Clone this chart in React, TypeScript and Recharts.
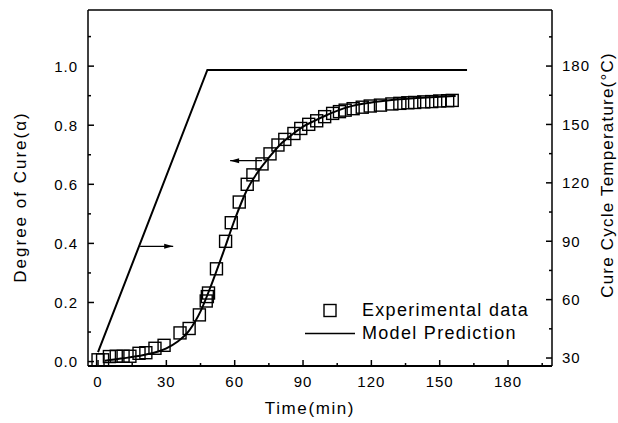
import {
  ComposedChart,
  Line,
  Scatter,
  XAxis,
  YAxis,
  ReferenceLine,
  Legend,
} from "recharts"

const FONT = '"Liberation Sans", Arial, Helvetica, sans-serif'
const INK = "#000"

// experimental points (min, alpha)
const expTime = [
  0, 2, 5, 8, 11, 14, 18, 21, 25, 29, 36, 40, 44.5, 47.5, 48, 48.5, 52, 56,
  58.5, 62, 65.5, 68, 72, 75.5, 79, 82, 86, 89, 92.5, 96, 99.5, 103, 106,
  108.5, 112, 116, 119.5, 124, 129, 132.5, 136, 139, 143, 146.5, 150, 153.5,
  155.5,
]
const expCure = [
  0.006, 0.006, 0.017, 0.018, 0.018, 0.018, 0.028, 0.03, 0.045, 0.055, 0.097,
  0.112, 0.158, 0.205, 0.22, 0.232, 0.314, 0.407, 0.47, 0.54, 0.6, 0.632,
  0.669, 0.703, 0.733, 0.752, 0.772, 0.789, 0.803, 0.815, 0.829, 0.84, 0.846,
  0.851, 0.856, 0.861, 0.865, 0.868, 0.872, 0.874, 0.876, 0.877, 0.879, 0.88,
  0.882, 0.883, 0.884,
]

// model prediction
const modelTime = [
  3, 10, 20, 30, 35, 40, 45, 50, 55, 60, 65, 70, 75, 80, 85, 90, 95, 100, 110,
  120, 130, 140, 150, 157,
]
const modelCure = [
  0.003, 0.01, 0.022, 0.045, 0.068, 0.105, 0.17, 0.265, 0.37, 0.48, 0.575,
  0.64, 0.69, 0.735, 0.767, 0.795, 0.815, 0.833, 0.862, 0.877, 0.886, 0.892,
  0.896, 0.899,
]

// cure cycle temperature (right axis)
const cycleTime = [0, 48, 162]
const cycleTemp = [33, 178, 178]

const timeTicks = [0, 15, 30, 45, 60, 75, 90, 105, 120, 135, 150, 165, 180, 195]
const cureTicks = [0, 0.1, 0.2, 0.3, 0.4, 0.5, 0.6, 0.7, 0.8, 0.9, 1.0, 1.1]
const tempTicks = [30, 45, 60, 75, 90, 105, 120, 135, 150, 165, 180, 195]

const expData = expTime.map((t, i) => ({ t, a: expCure[i] }))
const modelData = modelTime.map((t, i) => ({ t, a: modelCure[i] }))
const cycleData = cycleTime.map((t, i) => ({ t, temp: cycleTemp[i] }))

const GAP = 10

function makeTick(
  side: "left" | "right" | "bottom",
  isMajor: (v: number) => boolean,
  fmt: (v: number) => string
) {
  return (props: any) => {
    const { x, y, payload } = props
    const v = payload.value
    const major = isMajor(v)
    const len = major ? 6 : 3
    const textProps = {
      fontFamily: FONT,
      fontSize: 15,
      letterSpacing: 1,
      fill: INK,
    }
    if (side === "bottom") {
      const ay = y - GAP
      return (
        <g>
          <line x1={x} x2={x} y1={ay} y2={ay - len} stroke={INK} strokeWidth={1.5} />
          {major && (
            <text x={x} y={y} dy="0.72em" textAnchor="middle" {...textProps}>
              {fmt(v)}
            </text>
          )}
        </g>
      )
    }
    const dir = side === "left" ? 1 : -1
    const ax = x + dir * GAP
    return (
      <g>
        <line x1={ax} x2={ax + dir * len} y1={y} y2={y} stroke={INK} strokeWidth={1.5} />
        {major && (
          <text
            x={x}
            y={y}
            dy="0.36em"
            textAnchor={side === "left" ? "end" : "start"}
            {...textProps}
          >
            {fmt(v)}
          </text>
        )}
      </g>
    )
  }
}

const titleStyle = {
  fontFamily: FONT,
  fontSize: 17,
  letterSpacing: 1.6,
  fill: INK,
}

const arrowShape = (props: any) => {
  const { x1, y1, x2, y2 } = props
  const dir = Math.sign(x2 - x1)
  return (
    <g>
      <line x1={x1} y1={y1} x2={x2} y2={y2} stroke={INK} strokeWidth={1.3} />
      <polygon
        points={`${x2},${y2} ${x2 - dir * 9},${y2 - 2.5} ${x2 - dir * 9},${y2 + 2.5}`}
        fill={INK}
      />
    </g>
  )
}

const squareShape = (props: any) => {
  const { cx, cy } = props
  return (
    <rect x={cx - 6} y={cy - 6} width={12} height={12} fill="none" stroke={INK} strokeWidth={1.4} />
  )
}

const renderLegend = () => (
  <div
    style={{
      fontFamily: FONT,
      fontSize: 18,
      letterSpacing: 1.3,
      color: INK,
      lineHeight: "23px",
      whiteSpace: "nowrap",
    }}
  >
    <div style={{ display: "flex", alignItems: "center", height: 23 }}>
      <svg width={57} height={23}>
        <rect x={19} y={5.5} width={12} height={12} fill="none" stroke={INK} strokeWidth={1.4} />
      </svg>
      <span>Experimental data</span>
    </div>
    <div style={{ display: "flex", alignItems: "center", height: 23 }}>
      <svg width={57} height={23}>
        <line x1={0} x2={50} y1={11.5} y2={11.5} stroke={INK} strokeWidth={1.5} />
      </svg>
      <span>Model Prediction</span>
    </div>
  </div>
)

export default function App() {
  return (
    <div style={{ position: "absolute", left: 0, top: 0, width: 618, height: 423, background: "#fff" }}>
      <ComposedChart
        width={618}
        height={423}
        margin={{ top: 10, right: 6, left: 8, bottom: 17 }}
      >
        <XAxis
          dataKey="t"
          type="number"
          domain={[-4.4, 199.3]}
          allowDataOverflow
          ticks={timeTicks}
          interval={0}
          tickSize={0}
          tickMargin={GAP}
          tickLine={false}
          height={40}
          axisLine={{ stroke: INK, strokeWidth: 2 }}
          tick={makeTick("bottom", (v) => v % 30 === 0, (v) => String(v))}
          label={(p: any) => {
            const vb = p.viewBox
            return (
              <text
                x={vb.x + vb.width / 2 - 10}
                y={vb.y + 42}
                dy="0.35em"
                textAnchor="middle"
                {...titleStyle}
              >
                Time(min)
              </text>
            )
          }}
        />
        <YAxis
          yAxisId="left"
          type="number"
          domain={[-0.015, 1.19]}
          allowDataOverflow
          ticks={cureTicks}
          interval={0}
          tickSize={0}
          tickMargin={GAP}
          tickLine={false}
          width={80}
          axisLine={{ stroke: INK, strokeWidth: 1.5 }}
          tick={makeTick("left", (v) => Math.round(v * 10) % 2 === 0, (v) => v.toFixed(1))}
          label={(p: any) => {
            const vb = p.viewBox
            const cx = vb.x + 12
            const cy = vb.y + vb.height / 2 + 9
            return (
              <text
                x={cx}
                y={cy}
                dy="0.35em"
                textAnchor="middle"
                transform={`rotate(-90, ${cx}, ${cy})`}
                {...titleStyle}
                letterSpacing={2}
              >
                Degree of Cure(α)
              </text>
            )
          }}
        />
        <YAxis
          yAxisId="right"
          orientation="right"
          type="number"
          domain={[25.9, 208.8]}
          allowDataOverflow
          ticks={tempTicks}
          interval={0}
          tickSize={0}
          tickMargin={GAP}
          tickLine={false}
          width={60}
          axisLine={{ stroke: INK, strokeWidth: 1.5 }}
          tick={makeTick("right", (v) => v % 30 === 0, (v) => String(v))}
          label={(p: any) => {
            const vb = p.viewBox
            const cx = vb.x + 55
            const cy = vb.y + 165
            return (
              <text
                x={cx}
                y={cy}
                dy="0.35em"
                textAnchor="middle"
                transform={`rotate(-90, ${cx}, ${cy})`}
                {...titleStyle}
                letterSpacing={1.2}
              >
                Cure Cycle Temperature(°C)
              </text>
            )
          }}
        />

        {/* top frame */}
        <ReferenceLine yAxisId="left" y={1.19} stroke={INK} strokeWidth={1.5} />

        <Line
          yAxisId="right"
          data={cycleData}
          dataKey="temp"
          type="linear"
          stroke={INK}
          strokeWidth={2}
          dot={false}
          activeDot={false}
          isAnimationActive={false}
        />
        <Line
          yAxisId="left"
          data={modelData}
          dataKey="a"
          type="monotone"
          stroke={INK}
          strokeWidth={2}
          dot={false}
          activeDot={false}
          isAnimationActive={false}
        />
        <Scatter
          yAxisId="left"
          data={expData}
          dataKey="a"
          shape={squareShape}
          isAnimationActive={false}
        />

        <ReferenceLine
          yAxisId="left"
          segment={[
            { x: 18.5, y: 0.39 },
            { x: 33, y: 0.39 },
          ]}
          shape={arrowShape}
        />
        <ReferenceLine
          yAxisId="left"
          segment={[
            { x: 72, y: 0.68 },
            { x: 58, y: 0.68 },
          ]}
          shape={arrowShape}
        />

        <Legend
          layout="vertical"
          align="center"
          verticalAlign="middle"
          content={renderLegend}
          wrapperStyle={{ position: "absolute", left: 305, top: 298.5, width: 250 }}
        />
      </ComposedChart>
    </div>
  )
}
